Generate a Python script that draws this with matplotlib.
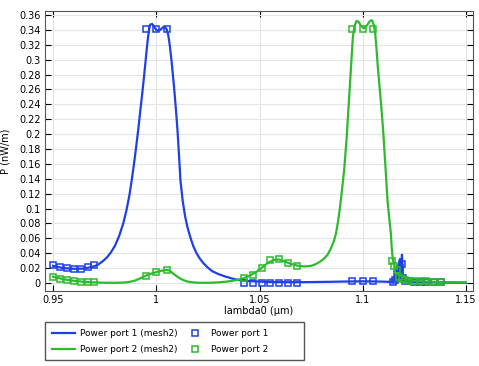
import numpy as np
import matplotlib
matplotlib.use("Agg")
import matplotlib.pyplot as plt
import matplotlib.ticker as mticker
from matplotlib.patches import Rectangle

# continuous curves (mesh2)
p1_x = [0.95, 0.953, 0.956, 0.96, 0.964, 0.967, 0.970, 0.972, 0.974, 0.976, 0.978, 0.980,
        0.982, 0.984, 0.9855, 0.987, 0.9882, 0.9893, 0.9903, 0.9913, 0.9922, 0.9931, 0.9939,
        0.9947, 0.9954, 0.996, 0.9966, 0.997, 0.998, 0.999, 1.000, 1.001, 1.002, 1.003, 1.004,
        1.005, 1.0058, 1.0065, 1.0072, 1.0079, 1.0086, 1.0094, 1.0102, 1.011, 1.0117, 1.0128,
        1.014, 1.015, 1.016, 1.017, 1.018, 1.0195, 1.021, 1.023, 1.0248, 1.027, 1.030, 1.033,
        1.0374, 1.041, 1.045, 1.055, 1.065, 1.075, 1.085, 1.093, 1.100, 1.107, 1.113, 1.115,
        1.116, 1.1165, 1.117, 1.1175, 1.118, 1.1185, 1.119, 1.1195, 1.120, 1.122, 1.125, 1.130,
        1.140, 1.150]
p1_y = [0.023, 0.021, 0.0198, 0.019, 0.0192, 0.0205, 0.0225, 0.025, 0.029, 0.034, 0.041, 0.050,
        0.063, 0.080, 0.097, 0.118, 0.140, 0.162, 0.184, 0.207, 0.230, 0.252, 0.273,
        0.295, 0.315, 0.330, 0.342, 0.347, 0.348, 0.344, 0.340, 0.339, 0.340, 0.343, 0.344,
        0.341, 0.333, 0.320, 0.303, 0.284, 0.263, 0.237, 0.208, 0.172, 0.138, 0.110,
        0.089, 0.076, 0.066, 0.057, 0.049, 0.040, 0.033, 0.026, 0.021, 0.016, 0.012, 0.009,
        0.0054, 0.0035, 0.0025, 0.0012, 0.001, 0.0012, 0.0016, 0.002, 0.0022, 0.002, 0.0015, 0.002,
        0.012, 0.003, 0.020, 0.008, 0.032, 0.012, 0.038, 0.005, 0.003, 0.002, 0.0015, 0.001,
        0.0005, 0.0003]

p2_x = [0.95, 0.955, 0.96, 0.965, 0.97, 0.975, 0.98, 0.984, 0.986, 0.988, 0.990, 0.992, 0.994,
        0.996, 0.998, 1.000, 1.002, 1.004, 1.005, 1.006, 1.007, 1.008, 1.009, 1.010, 1.011,
        1.012, 1.013, 1.015, 1.017, 1.020, 1.025, 1.030, 1.033, 1.036, 1.039, 1.042, 1.045,
        1.048, 1.051, 1.054, 1.057, 1.0595, 1.062, 1.065, 1.068, 1.070, 1.072, 1.075, 1.077,
        1.079, 1.081, 1.083, 1.0845, 1.086, 1.087, 1.088, 1.089, 1.090, 1.091, 1.0922, 1.0932,
        1.0942, 1.0952, 1.096, 1.097, 1.098, 1.099, 1.1005, 1.102, 1.1035, 1.1045, 1.1053,
        1.106, 1.1067, 1.1073, 1.108, 1.1087, 1.1094, 1.110, 1.1105, 1.111, 1.1115, 1.112,
        1.1128, 1.1136, 1.1141, 1.1146, 1.1155, 1.1165, 1.1175, 1.119, 1.121, 1.125, 1.130,
        1.140, 1.150]
p2_y = [0.0085, 0.005, 0.003, 0.0015, 0.0008, 0.0003, 0.0002, 0.0005, 0.001, 0.002, 0.0035,
        0.006, 0.0085, 0.011, 0.013, 0.0145, 0.016, 0.017, 0.0175, 0.017, 0.0155, 0.013, 0.011,
        0.0088, 0.007, 0.0053, 0.004, 0.002, 0.001, 0.0003, 0.0002, 0.0008, 0.0015, 0.0025,
        0.004, 0.006, 0.0095, 0.014, 0.020, 0.027, 0.031, 0.0315, 0.029, 0.0258, 0.0235, 0.0226,
        0.0222, 0.023, 0.025, 0.028, 0.032, 0.038, 0.046, 0.056, 0.066, 0.082, 0.102, 0.126,
        0.152, 0.195, 0.240, 0.285, 0.330, 0.345, 0.352, 0.351, 0.346, 0.342, 0.346, 0.352,
        0.353, 0.347, 0.336, 0.313, 0.290, 0.268, 0.246, 0.222, 0.200, 0.178, 0.156, 0.133,
        0.110, 0.088, 0.067, 0.045, 0.031, 0.022, 0.018, 0.010, 0.005, 0.004, 0.003, 0.002,
        0.0012, 0.0008]

# sweep points (markers)
m1_x = [0.95, 0.9533, 0.9567, 0.96, 0.9633, 0.9667, 0.97,
        0.995, 1.0, 1.005,
        1.0427, 1.047, 1.0512, 1.0553, 1.0596, 1.0638, 1.068,
        1.095, 1.1, 1.105,
        1.1145, 1.1155, 1.1165, 1.118, 1.119, 1.1195, 1.1205, 1.1225, 1.125, 1.128, 1.1306,
        1.1346, 1.1379]
m1_y = [0.0235, 0.021, 0.020, 0.019, 0.019, 0.021, 0.0235,
        0.341, 0.341, 0.341,
        0.0005, 0.0005, 0.0005, 0.0005, 0.0005, 0.0005, 0.0005,
        0.002, 0.002, 0.002,
        0.001, 0.004, 0.012, 0.020, 0.026, 0.006, 0.003, 0.002, 0.0015, 0.001, 0.001,
        0.0008, 0.0008]

m2_x = [0.95, 0.9533, 0.9567, 0.96, 0.9633, 0.9667, 0.97,
        0.995, 1.0, 1.005,
        1.0427, 1.047, 1.0512, 1.0553, 1.0596, 1.0638, 1.068,
        1.095, 1.1, 1.105,
        1.1141, 1.1153, 1.1165, 1.1177, 1.119, 1.1205, 1.1225, 1.125, 1.128, 1.1306, 1.1346,
        1.1379]
m2_y = [0.0085, 0.005, 0.0035, 0.0025, 0.0015, 0.001, 0.0008,
        0.010, 0.0145, 0.0175,
        0.0065, 0.0105, 0.020, 0.031, 0.032, 0.0265, 0.023,
        0.341, 0.341, 0.341,
        0.030, 0.023, 0.017, 0.008, 0.005, 0.004, 0.003, 0.0025, 0.002, 0.002, 0.0015,
        0.0012]

x_ticks = [0.95, 1.0, 1.05, 1.1, 1.15]
y_ticks = np.arange(0, 0.361, 0.02)

blue = '#1f3fe8'
green = '#2dbb2d'

plt.rcParams['font.family'] = 'DejaVu Sans'
fig = plt.figure(figsize=(4.79, 3.66), dpi=100)
ax = fig.add_axes([45/479, 1-291/366, 428/479, 280/366])

l1, = ax.plot(p1_x, p1_y, '-', color=blue, lw=1.6, label='Power port 1 (mesh2)')
l2, = ax.plot(p2_x, p2_y, '-', color=green, lw=1.6, label='Power port 2 (mesh2)')
s1, = ax.plot(m1_x, m1_y, 's', mfc='none', mec=blue, ms=5, mew=1.1, label='Power port 1')
s2, = ax.plot(m2_x, m2_y, 's', mfc='none', mec=green, ms=5, mew=1.1, label='Power port 2')

ax.set_xlim(0.9461, 1.1534)
ax.set_ylim(-0.0108, 0.3654)
ax.set_xticks(x_ticks)
ax.set_yticks(y_ticks)
fmt = mticker.FuncFormatter(lambda v, p: '%g' % round(v, 3))
ax.xaxis.set_major_formatter(fmt)
ax.yaxis.set_major_formatter(fmt)
ax.tick_params(direction='in', top=True, right=True, labelsize=7, length=4, width=0.8, pad=3)
ax.grid(True, color='#e4e4e4', lw=0.8)
ax.set_axisbelow(True)
for sp in ax.spines.values():
    sp.set_color('#555555')

ax.set_xlabel('lambda0 (µm)', fontsize=7, labelpad=0.5)
ax.set_ylabel('P (nW/m)', fontsize=7, labelpad=6)

leg = fig.legend(handles=[l1, l2, s1, s2], loc='upper left', bbox_to_anchor=(45/479, 1-322/366),
                 borderaxespad=0, ncol=2, fontsize=6.5, frameon=False,
                 handlelength=2.6, columnspacing=0.6, borderpad=0.75,
                 labelspacing=0.85, handletextpad=0.5)
# legend frame is wider than its content in the reference
fig.patches.append(Rectangle((45/479, 1-360/366), 259/479, 38/366, transform=fig.transFigure,
                             fill=False, edgecolor='#555555', lw=1.0))

fig.savefig('out.png', dpi=100)
